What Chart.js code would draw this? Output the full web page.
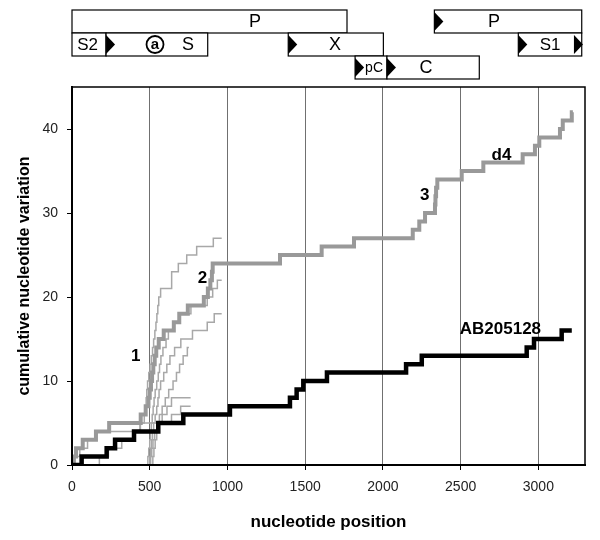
<!DOCTYPE html>
<html>
<head>
<meta charset="utf-8">
<script src="https://cdn.jsdelivr.net/npm/chart.js@4.4.1/dist/chart.umd.min.js"></script>
<style>
  html, body { margin: 0; padding: 0; background: #fff; }
</style>
</head>
<body>
<canvas id="chartVariation" width="600" height="540"></canvas>
<script>
// tick labels
const xTicks = [0, 500, 1000, 1500, 2000, 2500, 3000];
const yTicks = [0, 10, 20, 30, 40];

// AB205128 (black)
const abPos = [0, 62, 223, 277, 399, 555, 716, 1016, 1402, 1445, 1488, 1640, 2149, 2250, 2925, 2972, 3150, 3215];
const abVal = [0, 1, 2, 3, 4, 5, 6, 7, 8, 9, 10, 11, 12, 13, 14, 15, 16, 16];

// d4 (thick gray)
const d4Pos = [0, 10, 26, 69, 154, 239, 442, 474, 492, 500, 508, 515, 523, 532, 542, 558, 590, 655, 690, 745,
  848, 874, 890, 900, 905, 1338, 1606, 1814, 2192, 2234, 2271, 2335, 2338, 2342, 2350, 2507, 2646, 2899,
  2978, 3006, 3139, 3157, 3215, 3222];
const d4Val = [0, 1, 2, 3, 4, 5, 6, 7, 8, 9, 10, 11, 12, 13, 14, 15, 16, 17, 18, 19,
  20, 21, 22, 23, 24, 25, 26, 27, 28, 29, 30, 31, 32, 33, 34, 35, 36, 37,
  38, 39, 40, 41, 42, 42];

// thin gray lines
const thin1Pos = [0, 20, 50, 100, 160, 440, 465, 472, 477, 481, 486, 494, 502, 510, 518, 525, 533, 540, 546, 552, 558, 570, 641, 684, 738, 802, 909, 963];
const thin1Val = [0, 1, 2, 3, 4, 5, 6, 7, 8, 9, 10, 11, 12, 13, 14, 15, 16, 17, 18, 19, 20, 21, 23, 24, 25, 26, 27, 27];
const thin2Pos = [0, 480, 488, 494, 500, 505, 510, 516, 522, 528, 535, 545, 555, 563, 572, 585, 605, 620, 650, 690, 765, 870, 905, 935, 963];
const thin2Val = [0, 0, 1, 2, 3, 4, 5, 6, 7, 8, 9, 10, 11, 12, 13, 14, 15, 16, 17, 18, 19, 20, 21, 22, 22];
const thin3Pos = [0, 495, 500, 506, 512, 518, 525, 535, 545, 553, 560, 570, 590, 610, 630, 660, 700, 775, 870, 915, 963];
const thin3Val = [0, 0, 1, 2, 3, 4, 5, 6, 7, 8, 9, 10, 11, 12, 13, 14, 15, 16, 17, 18, 18];
const thin4Pos = [0, 500, 506, 513, 521, 532, 547, 562, 580, 600, 622, 650, 672, 692, 715, 742, 752];
const thin4Val = [0, 0, 1, 2, 3, 4, 5, 6, 7, 8, 9, 10, 11, 12, 13, 14, 14];
const thin5Pos = [0, 515, 520, 527, 535, 545, 560, 580, 611, 640, 763];
const thin5Val = [0, 0, 1, 2, 3, 4, 5, 6, 7, 8, 8];
const thin6Pos = [0, 176, 234, 320, 405, 437, 640, 699, 763];
const thin6Val = [0, 1, 2, 3, 4, 5, 6, 7, 7];

// labels next to the lines
const lineLabels = ['1', '2', '3', 'd4', 'AB205128'];
const lineLabelPos = [410, 840, 2269, 2763, 2756];
const lineLabelVal = [12.9, 22.2, 32.1, 36.9, 16.2];

// genome map (nucleotide positions)
const geneNames = ['P', 'S2', 'S', 'X', 'pC', 'C', 'P', 'S1'];
const geneStart = [0, 0, 219, 1391, 1821, 2026, 2331, 2871];
const geneEnd = [1769, 219, 873, 2003, 2026, 2620, 3279, 3279];
const geneRow = [0, 1, 1, 1, 2, 2, 0, 1];
const geneLabelPos = [1177, 100, 746, 1692, 1943, 2277, 2715, 3075];
const arrowPos = [219, 1391, 1821, 2026, 2331, 2871, 3229];
const arrowRow = [1, 1, 2, 2, 0, 1, 1];
const circledA = 534;

function points(pos, val) {
  return pos.map((p, i) => ({ x: p, y: val[i] }));
}

const thinStyle = { borderColor: '#a8a8a8', borderWidth: 1.5 };

const genomeMap = {
  id: 'genomeMap',
  afterDraw(chart) {
    const ctx = chart.ctx;
    const xs = chart.scales.x;
    const ys = chart.scales.y;
    const area = chart.chartArea;
    const rowTop = [10, 33, 56];
    const rowH = 23;

    ctx.save();
    // top and right frame
    ctx.strokeStyle = '#000';
    ctx.lineWidth = 1.5;
    ctx.beginPath();
    ctx.moveTo(area.left, area.top);
    ctx.lineTo(area.right, area.top);
    ctx.lineTo(area.right, area.bottom);
    ctx.stroke();

    // gene boxes
    ctx.lineWidth = 1.2;
    ctx.fillStyle = '#fff';
    geneNames.forEach((name, i) => {
      const x0 = xs.getPixelForValue(geneStart[i]);
      const x1 = xs.getPixelForValue(geneEnd[i]);
      const top = rowTop[geneRow[i]];
      ctx.fillRect(x0, top, x1 - x0, rowH);
      ctx.strokeRect(x0, top, x1 - x0, rowH);
    });

    // start arrows
    ctx.fillStyle = '#000';
    arrowPos.forEach((p, i) => {
      const x0 = xs.getPixelForValue(p);
      const top = rowTop[arrowRow[i]];
      ctx.beginPath();
      ctx.moveTo(x0, top + 2);
      ctx.lineTo(x0 + 9, top + rowH / 2);
      ctx.lineTo(x0, top + rowH - 2);
      ctx.closePath();
      ctx.fill();
    });

    // gene names
    ctx.textAlign = 'center';
    ctx.textBaseline = 'middle';
    geneNames.forEach((name, i) => {
      const size = name === 'pC' ? 14 : (name.length > 1 ? 17 : 18);
      ctx.font = size + 'px "Liberation Sans", Arial, sans-serif';
      ctx.fillText(name, xs.getPixelForValue(geneLabelPos[i]), rowTop[geneRow[i]] + rowH / 2 + 1);
    });

    // circled a
    const ax = xs.getPixelForValue(circledA);
    const ay = rowTop[1] + rowH / 2;
    ctx.lineWidth = 1.8;
    ctx.beginPath();
    ctx.arc(ax, ay, 8.5, 0, Math.PI * 2);
    ctx.stroke();
    ctx.font = 'bold 15px "Liberation Sans", Arial, sans-serif';
    ctx.fillText('a', ax, ay);

    // line labels
    ctx.font = 'bold 17px "Liberation Sans", Arial, sans-serif';
    lineLabels.forEach((t, i) => {
      ctx.fillText(t, xs.getPixelForValue(lineLabelPos[i]), ys.getPixelForValue(lineLabelVal[i]));
    });
    ctx.restore();
  }
};

Chart.defaults.font.family = '"Liberation Sans", Arial, sans-serif';
Chart.defaults.color = '#222';

const ctx = document.getElementById('chartVariation').getContext('2d');
new Chart(ctx, {
  type: 'line',
  data: {
    datasets: [
      { label: 'AB205128', data: points(abPos, abVal), borderColor: '#000', borderWidth: 4.5 },
      { label: 'd4', data: points(d4Pos, d4Val), borderColor: '#999', borderWidth: 4 },
      Object.assign({ label: 't1', data: points(thin1Pos, thin1Val) }, thinStyle),
      Object.assign({ label: 't2', data: points(thin2Pos, thin2Val) }, thinStyle),
      Object.assign({ label: 't3', data: points(thin3Pos, thin3Val) }, thinStyle),
      Object.assign({ label: 't4', data: points(thin4Pos, thin4Val) }, thinStyle),
      Object.assign({ label: 't5', data: points(thin5Pos, thin5Val) }, thinStyle),
      Object.assign({ label: 't6', data: points(thin6Pos, thin6Val) }, thinStyle)
    ]
  },
  options: {
    responsive: false,
    animation: false,
    layout: { padding: { top: 87, right: 15, left: 0, bottom: 0 } },
    elements: {
      line: { stepped: true, fill: false, borderJoinStyle: 'miter', borderCapStyle: 'butt' },
      point: { radius: 0, hoverRadius: 0 }
    },
    plugins: {
      legend: { display: false },
      tooltip: { enabled: false }
    },
    scales: {
      x: {
        type: 'linear',
        min: 0,
        max: 3300,
        afterFit: s => { s.height = 75; },
        afterBuildTicks: s => { s.ticks = xTicks.map(v => ({ value: v })); },
        ticks: { callback: v => v, font: { size: 14 }, padding: 9, maxRotation: 0 },
        grid: { color: '#707070', lineWidth: 1, tickLength: 5, tickColor: '#000' },
        border: { color: '#000', width: 2, z: 1 },
        title: {
          display: true,
          text: 'nucleotide position',
          color: '#000',
          font: { size: 17, weight: 'bold' },
          padding: { top: 0, bottom: 7 }
        }
      },
      y: {
        min: 0,
        max: 45,
        afterFit: s => { s.width = 72; },
        afterBuildTicks: s => { s.ticks = yTicks.map(v => ({ value: v })); },
        ticks: { font: { size: 14 }, padding: 9 },
        grid: { drawOnChartArea: false, tickLength: 5, tickColor: '#000' },
        border: { color: '#000', width: 2, z: 1 },
        title: {
          display: true,
          text: 'cumulative nucleotide variation',
          color: '#000',
          font: { size: 16, weight: 'bold' },
          padding: { top: 15, bottom: 0 }
        }
      }
    }
  },
  plugins: [genomeMap]
});
</script>
</body>
</html>
